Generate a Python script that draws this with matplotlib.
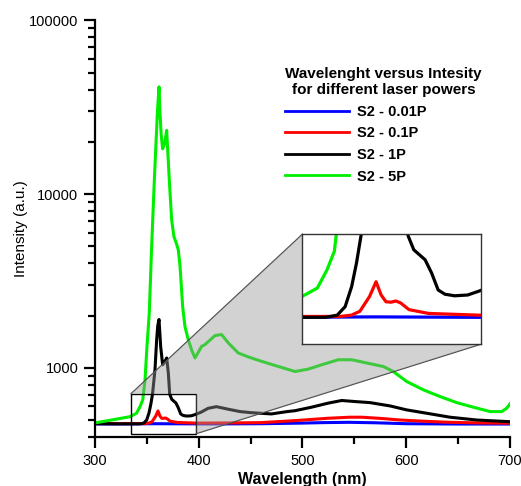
import matplotlib
matplotlib.use('Agg')
import matplotlib.pyplot as plt
from matplotlib.patches import Polygon, Rectangle
from matplotlib.lines import Line2D
from matplotlib.ticker import LogLocator, NullFormatter, FixedLocator, MultipleLocator, FixedFormatter

plt.rcParams['font.family'] = ['Liberation Sans', 'DejaVu Sans']

# ---- data ----
wl_blue = [300, 330, 360, 397, 430, 460, 480, 500, 520, 545, 570, 600, 650, 700]
int_blue = [475, 476, 477, 476, 476, 477, 479, 481, 484, 486, 483, 477, 475, 475]

wl_red = [300, 330, 348, 352, 355, 358.4, 360.7, 362.5, 364.2, 366, 367.7, 369.4, 372.3, 379.2,
          397, 430, 460, 492.8, 524.9, 545.8, 557, 575, 594, 620, 642, 670, 700]
int_red = [478, 478, 478, 481, 490, 526, 565, 530, 513, 512, 515, 510, 494, 485,
           481, 482, 484, 497, 513, 520, 520, 512, 501, 492, 486, 482, 480]

wl_black = [300, 320, 343, 347, 349.8, 352.1, 353.8, 355.5, 357.8, 359.4, 360.5, 361.7, 363.3,
            365.2, 367, 369.1, 370.7, 372, 374, 378, 380.3, 382.6, 385, 388.4, 393, 397,
            402, 409, 417, 428.5, 440, 451, 470, 485, 492.8, 508.8, 524.9, 537.8, 550.6,
            565, 584.3, 600.4, 619.7, 642.2, 667.9, 700]
int_black = [478, 476, 476, 481, 501, 552, 618, 711, 973, 1445, 1750, 1900, 1325,
             1042, 1080, 1140, 931, 705, 659, 628, 589, 543, 532, 528, 530, 540,
             555, 585, 598, 578, 560, 552, 543, 560, 567, 594, 627, 649, 640,
             631, 604, 573, 548, 520, 501, 490]

wl_green = [300, 315, 334, 340, 343.4, 346, 348.2, 350, 352.3, 354.6, 357.2, 360.1, 361.7,
            362.6, 363.8, 365.2, 367, 369.1, 371.6, 373.9, 376.1, 378, 380.3, 382, 384.5,
            386.7, 390, 393.2, 396.4, 402.8, 406, 415.7, 422, 428.5, 438, 447.8, 460.7,
            476.7, 492.8, 505.6, 518.5, 534.5, 547.4, 561.9, 578, 587.5, 600.4, 616.4,
            632.5, 648.6, 664.6, 681, 692, 696.8, 700]
int_green = [482, 500, 524, 548, 598, 654, 851, 1300, 2060, 4990, 12080, 29200, 41500,
             29700, 22000, 18250, 19500, 23300, 12080, 7100, 5690, 5300, 4780, 3830, 2250,
             1730, 1445, 1265, 1140, 1330, 1362, 1535, 1556, 1392, 1219, 1156, 1090,
             1019, 953, 984, 1042, 1114, 1114, 1067, 1018, 953, 835, 748,
             684, 631, 594, 560, 560, 586, 621]

series_labels = ['S2 - 0.01P', 'S2 - 0.1P', 'S2 - 1P', 'S2 - 5P']
series_colors = ['#0000ff', '#ff0000', '#000000', '#00ee00']
legend_title = 'Wavelenght versus Intesity\nfor different laser powers'

x_ticks = [300, 400, 500, 600, 700]
y_ticks = [1000, 10000, 100000]
y_tick_labels = ['1000', '10000', '100000']

zoom_x = (334.7, 397.6)
zoom_y = (418, 710)

series = [(wl_blue, int_blue), (wl_red, int_red), (wl_black, int_black), (wl_green, int_green)]

W, H = 521, 486
fig = plt.figure(figsize=(W / 100, H / 100), dpi=100)
ax = fig.add_axes([95 / W, 49 / H, 415 / W, 416.5 / H])

for (x, y), c in zip(series, series_colors):
    ax.plot(x, y, color=c, lw=2.2, zorder=2)

ax.set_yscale('log')
ax.set_xlim(300, 700)
ax.set_ylim(400, 100000)
ax.xaxis.set_major_locator(FixedLocator(x_ticks))
ax.xaxis.set_minor_locator(MultipleLocator(50))
ax.yaxis.set_major_locator(FixedLocator(y_ticks))
ax.yaxis.set_major_formatter(FixedFormatter(y_tick_labels))
ax.yaxis.set_minor_locator(LogLocator(base=10, subs=range(2, 10)))
ax.yaxis.set_minor_formatter(NullFormatter())
for s in ['top', 'right']:
    ax.spines[s].set_visible(False)
for s in ['left', 'bottom']:
    ax.spines[s].set_linewidth(1.6)
ax.tick_params(which='major', direction='out', length=8, width=1.6, labelsize=10.5, pad=4)
ax.tick_params(which='minor', direction='out', length=5, width=1.6)
ax.set_xlabel('Wavelength (nm)', fontsize=11.5, fontweight='bold', labelpad=3)
ax.set_ylabel('Intensity (a.u.)', fontsize=11, labelpad=1)

# source rectangle
ax.add_patch(Rectangle((zoom_x[0], zoom_y[0]), zoom_x[1] - zoom_x[0], zoom_y[1] - zoom_y[0],
                       fill=False, ec='black', lw=1.0, zorder=5))

# inset
ins_l, ins_b, ins_w, ins_h = 302.3 / W, (H - 344.3) / H, 178.4 / W, 110 / H
ins = fig.add_axes([ins_l, ins_b, ins_w, ins_h])
ins.set_zorder(3)
for (x, y), c in zip(series, series_colors):
    ins.plot(x, y, color=c, lw=2.3)
ins.set_yscale('log')
ins.set_xlim(*zoom_x)
ins.set_ylim(*zoom_y)
ins.set_xticks([]); ins.set_yticks([])
ins.yaxis.set_minor_locator(FixedLocator([]))
for s in ins.spines.values():
    s.set_linewidth(1.0)
    s.set_edgecolor('#333333')

# connector polygon in figure coordinates
inv = fig.transFigure.inverted()
def to_fig(xd, yd):
    return inv.transform(ax.transData.transform((xd, yd)))
rTL = to_fig(zoom_x[0], zoom_y[1])
rTR = to_fig(zoom_x[1], zoom_y[1])
rBR = to_fig(zoom_x[1], zoom_y[0])
iTL = (ins_l, ins_b + ins_h)
iBL = (ins_l, ins_b)
iBR = (ins_l + ins_w, ins_b)
poly = Polygon([rTL, iTL, iBL, iBR, rBR, rTR], closed=True, transform=fig.transFigure,
               facecolor='#989898', alpha=0.43, edgecolor='none', zorder=1)
fig.patches.append(poly)
fig.lines.append(Line2D([rTL[0], iTL[0]], [rTL[1], iTL[1]], transform=fig.transFigure,
                        color='#444444', lw=0.9, zorder=1))
fig.lines.append(Line2D([rBR[0], iBR[0]], [rBR[1], iBR[1]], transform=fig.transFigure,
                        color='#444444', lw=0.9, zorder=1))

# legend
handles = [Line2D([], [], color=c, lw=2.0) for c in series_colors]
leg = ax.legend(handles, series_labels, title=legend_title, loc='upper left',
                bbox_to_anchor=(285 / W, 1 - 67 / H), bbox_transform=fig.transFigure,
                frameon=False, prop={'weight': 'bold', 'size': 10.5},
                title_fontproperties={'weight': 'bold', 'size': 11},
                handlelength=4.4, handletextpad=0.55, labelspacing=0.52,
                borderpad=0, borderaxespad=0)
leg.get_title().set_multialignment('center')
leg._legend_box.align = 'left'

fig.savefig('out.png', dpi=100)
